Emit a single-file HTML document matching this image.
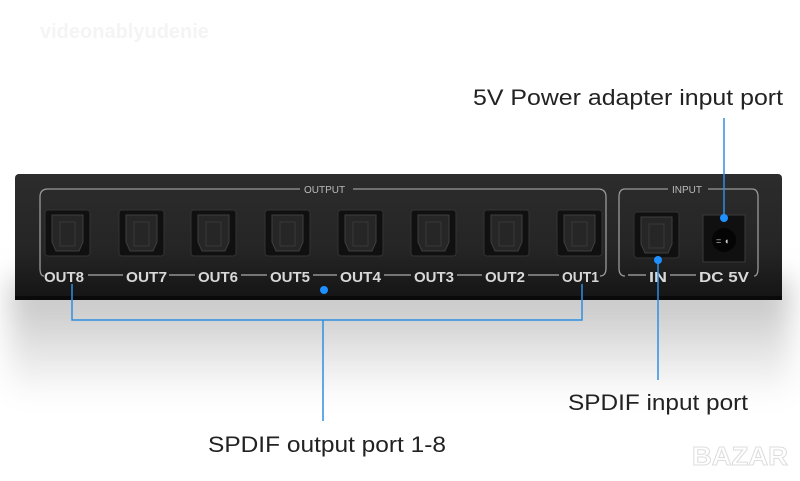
<!DOCTYPE html>
<html><head><meta charset="utf-8"><style>
html,body{margin:0;padding:0;background:#fff;}
svg{display:block;}
text{font-family:"Liberation Sans",sans-serif;}
</style></head><body>
<svg width="800" height="481" viewBox="0 0 800 481" xmlns="http://www.w3.org/2000/svg">
<defs>
<linearGradient id="sh" x1="0" y1="0" x2="0" y2="1">
<stop offset="0" stop-color="#bdbdbd"/>
<stop offset="0.4" stop-color="#d8d8d8"/>
<stop offset="1" stop-color="#ffffff"/>
</linearGradient>
<filter id="blur" x="-20%" y="-50%" width="140%" height="200%"><feGaussianBlur stdDeviation="14"/></filter>
<linearGradient id="dev" x1="0" y1="0" x2="0" y2="1">
<stop offset="0" stop-color="#2c2c2c"/>
<stop offset="0.6" stop-color="#252525"/>
<stop offset="1" stop-color="#141414"/>
</linearGradient>
<g id="port">
<rect x="0" y="0" width="45" height="46" rx="3" fill="#101010" stroke="#333" stroke-width="1"/>
<path d="M7 5 H38 V32 L34 41 H11 L7 32 Z" fill="#262626" stroke="#3e3e3e" stroke-width="1"/>
<rect x="15" y="12" width="15" height="24" fill="none" stroke="#383838" stroke-width="1"/>
</g>
</defs>
<rect x="0" y="0" width="800" height="481" fill="#fff"/>
<rect x="10" y="280" width="780" height="120" fill="url(#sh)" filter="url(#blur)"/>
<text x="40" y="38" font-size="20" font-weight="bold" fill="#f4f4f4">videonablyudenie</text>
<!-- device -->
<rect x="15" y="174" width="767" height="126" rx="4" fill="url(#dev)"/>
<rect x="15" y="296" width="767" height="4" fill="#0a0a0a"/>
<!-- output frame -->
<path d="M300 189 H48 Q40 189 40 197 V268 Q40 276 44 276" fill="none" stroke="#9a9a9a" stroke-width="1.3"/>
<path d="M353 189 H598 Q606 189 606 197 V268 Q606 276 600 276" fill="none" stroke="#9a9a9a" stroke-width="1.3"/>
<text x="304" y="193" font-size="10" fill="#bbb">OUTPUT</text>
<!-- input frame -->
<path d="M668 189 H625 Q619 189 619 197 V268 Q619 276 625 276" fill="none" stroke="#9a9a9a" stroke-width="1.3"/>
<path d="M708 189 H752 Q758 189 758 197 V268 Q758 276 754 276" fill="none" stroke="#9a9a9a" stroke-width="1.3"/>
<text x="672" y="193" font-size="10" fill="#bbb">INPUT</text>
<!-- ports -->
<use href="#port" x="45" y="210"/>
<use href="#port" x="119" y="210"/>
<use href="#port" x="191" y="210"/>
<use href="#port" x="265" y="210"/>
<use href="#port" x="338" y="210"/>
<use href="#port" x="411" y="210"/>
<use href="#port" x="484" y="210"/>
<use href="#port" x="557" y="210"/>
<use href="#port" x="634" y="212"/>
<rect x="703" y="215" width="42" height="47" fill="#101010" stroke="#3a3a3a"/>
<circle cx="724" cy="240" r="12" fill="#050505"/>
<text x="716" y="244" font-size="9" fill="#ccc">= ◖</text>
<!-- labels row -->
<g font-size="15" fill="#d8d8d8" font-weight="bold">
<text x="44" y="282" textLength="40" lengthAdjust="spacingAndGlyphs">OUT8</text>
<text x="126" y="282" textLength="41" lengthAdjust="spacingAndGlyphs">OUT7</text>
<text x="198" y="282" textLength="40" lengthAdjust="spacingAndGlyphs">OUT6</text>
<text x="270" y="282" textLength="40" lengthAdjust="spacingAndGlyphs">OUT5</text>
<text x="340" y="282" textLength="41" lengthAdjust="spacingAndGlyphs">OUT4</text>
<text x="414" y="282" textLength="40" lengthAdjust="spacingAndGlyphs">OUT3</text>
<text x="485" y="282" textLength="40" lengthAdjust="spacingAndGlyphs">OUT2</text>
<text x="562" y="282" textLength="37" lengthAdjust="spacingAndGlyphs">OUT1</text>
<text x="649" y="282" textLength="18" lengthAdjust="spacingAndGlyphs">IN</text>
<text x="699" y="282" textLength="50" lengthAdjust="spacingAndGlyphs">DC 5V</text>
</g>
<g stroke="#aaa" stroke-width="1.2">
<line x1="88" y1="275" x2="123" y2="275"/><line x1="169" y1="275" x2="195" y2="275"/>
<line x1="241" y1="275" x2="267" y2="275"/><line x1="313" y1="275" x2="337" y2="275"/>
<line x1="384" y1="275" x2="411" y2="275"/><line x1="457" y1="275" x2="482" y2="275"/>
<line x1="528" y1="275" x2="559" y2="275"/><line x1="628" y1="275" x2="646" y2="275"/>
<line x1="670" y1="275" x2="696" y2="275"/>
</g>
<!-- blue connectors -->
<g stroke="#2e8fe0" stroke-width="1.5" fill="none">
<path d="M72 284 V320 H582 V284"/>
<line x1="323" y1="320" x2="323" y2="421"/>
<line x1="658" y1="260" x2="658" y2="380"/>
<line x1="724" y1="118" x2="724" y2="218"/>
</g>
<g fill="#1e90ff">
<circle cx="324" cy="290" r="4"/>
<circle cx="658" cy="260" r="4"/>
<circle cx="724" cy="218" r="4"/>
</g>
<!-- callout texts -->
<g font-size="22" fill="#222">
<text x="473" y="105" textLength="310" lengthAdjust="spacingAndGlyphs">5V Power adapter input port</text>
<text x="568" y="410" textLength="180" lengthAdjust="spacingAndGlyphs">SPDIF input port</text>
<text x="208" y="452" textLength="238" lengthAdjust="spacingAndGlyphs">SPDIF output port 1-8</text>
</g>
<text x="692" y="465" font-size="26" font-weight="bold" fill="#fff" stroke="#ddd" stroke-width="1" textLength="96" lengthAdjust="spacingAndGlyphs">BAZAR</text>
</svg>
</body></html>
